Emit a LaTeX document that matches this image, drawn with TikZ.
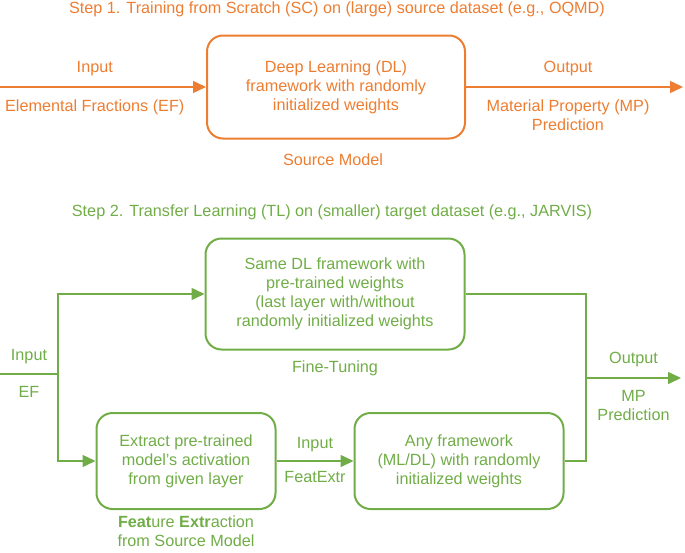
\documentclass[tikz,border=0pt]{standalone}
\usepackage{fontspec}
\setmainfont{Liberation Sans}
\usetikzlibrary{arrows.meta}
\definecolor{srcorange}{RGB}{237,125,49}
\definecolor{tlgreen}{RGB}{112,173,71}

\begin{document}
\begin{tikzpicture}[x=1pt,y=-1pt,
  font=\fontsize{16.2}{19}\selectfont,
  box/.style={rectangle,rounded corners=16pt,draw,line width=2pt,align=center,inner sep=0pt},
  link/.style={line width=1.5pt},
  arr/.style={link,-{Triangle[length=13pt,width=12pt]}},
  lbl/.style={align=center,inner sep=0pt}]
\useasboundingbox (0,0) rectangle (685,552);

% step 1
\begin{scope}[color=srcorange]
\path (337,9) node[lbl] (title1) {Step 1. Training from Scratch (SC) on (large) source dataset (e.g., OQMD)};
\path (336,87) node[box,minimum width=258pt,minimum height=103pt] (src) {Deep Learning (DL)\\framework with randomly\\initialized weights};
\path (0,87) coordinate (in1);
\path (683,87) coordinate (out1);
\draw[arr] (in1) -- node[pos=0.46,above=10pt,lbl]{Input} node[pos=0.46,below=12pt,lbl]{Elemental Fractions (EF)} (src);
\draw[arr] (src) -- node[pos=0.47,above=10pt,lbl]{Output} node[pos=0.47,below=12pt,lbl]{Material Property (MP)\\Prediction} (out1);
\path (333,160) node[lbl] (srcname) {Source Model};
\end{scope}

% step 2
\begin{scope}[color=tlgreen]
\path (332,212) node[lbl] (title2) {Step 2. Transfer Learning (TL) on (smaller) target dataset (e.g., JARVIS)};
\path (335,294) node[box,minimum width=259pt,minimum height=111pt] (ft) {Same DL framework with\\pre-trained weights\\(last layer with/without\\randomly initialized weights};
\path (335,368) node[lbl] (ftname) {Fine-Tuning};
\path (186,461) node[box,minimum width=179pt,minimum height=96pt] (fx) {Extract pre-trained\\model's activation\\from given layer};
\path (459,461) node[box,minimum width=209pt,minimum height=96pt] (any) {Any framework\\(ML/DL) with randomly\\initialized weights};
\path (186,531) node[lbl] (fxname) {\textbf{Feat}ure \textbf{Extr}action\\from Source Model};

\path (0,374) coordinate (in2);
\path (58,374) coordinate (split);
\path (586,378) coordinate (merge);
\path (681,378) coordinate (out2);

\draw[link] (in2) -- node[above=9pt,lbl]{Input} node[below=12pt,lbl]{EF} (split);
\draw[arr] (split) |- (ft);
\draw[arr] (split) |- (fx);
\draw[arr] (fx) -- node[above=8pt,lbl]{Input} node[below=10pt,lbl]{FeatExtr} (any);
\draw[link] (any.east) -| (merge) |- (ft.east);
\draw[arr] (merge) -- node[above=10pt,lbl]{Output} node[below=12pt,lbl]{MP\\Prediction} (out2);
\end{scope}
\end{tikzpicture}
\end{document}
